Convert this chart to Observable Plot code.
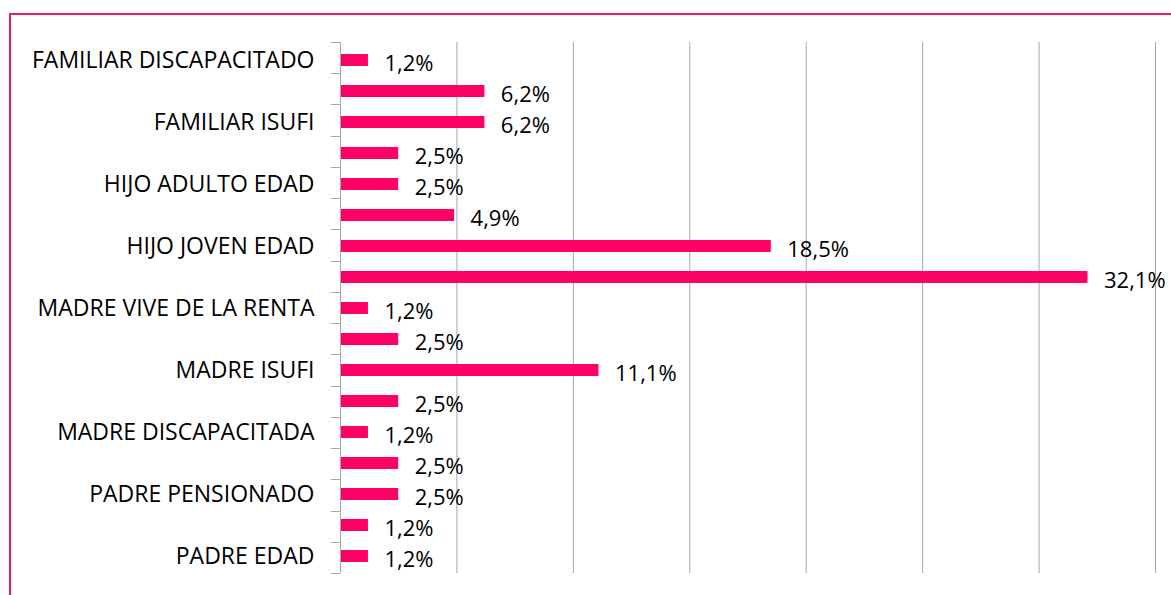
<!DOCTYPE html>
<html>
<head>
<meta charset="utf-8">
<script src="https://cdn.jsdelivr.net/npm/d3@7"></script>
<script src="https://cdn.jsdelivr.net/npm/@observablehq/plot@0.6"></script>
<style>
  html, body { margin: 0; padding: 0; background: #fff; }
  #wrap { position: relative; width: 1171px; height: 595px; overflow: hidden; }
  #frame { position: absolute; left: 9px; top: 13px; width: 1300px; height: 700px;
           border-left: 2px solid #E8196E; border-top: 2px solid #E8196E; pointer-events: none; }
  #chart { position: absolute; left: 0; top: 0; }
</style>
</head>
<body>
<div id="wrap"><div id="frame"></div><div id="chart"></div></div>
<script>
// Categories top to bottom (only every other label is shown in the original)
const categories = [
  "FAMILIAR DISCAPACITADO", "FAMILIAR EDAD", "FAMILIAR ISUFI", "HIJO ADULTO DISCAPACITADO",
  "HIJO ADULTO EDAD", "HIJO JOVEN DISCAPACITADO", "HIJO JOVEN EDAD", "HIJO JOVEN ESTUDIANTE",
  "MADRE VIVE DE LA RENTA", "MADRE PENSIONADA", "MADRE ISUFI", "MADRE EDAD",
  "MADRE DISCAPACITADA", "PADRE VIVE DE LA RENTA", "PADRE PENSIONADO", "PADRE ISUFI", "PADRE EDAD"
];
const values = [1.2, 6.2, 6.2, 2.5, 2.5, 4.9, 18.5, 32.1, 1.2, 2.5, 11.1, 2.5, 1.2, 2.5, 2.5, 1.2, 1.2];
const shownLabels = categories.filter((d, i) => i % 2 === 0);
const xTicks = [0, 5, 10, 15, 20, 25, 30, 35];

const data = categories.map((c, i) => ({category: c, value: values[i]}));
const fmt = v => v.toFixed(1).replace(".", ",") + "%";

const plot = Plot.plot({
  width: 1171,
  height: 595,
  marginLeft: 340,
  marginRight: 16,
  marginTop: 42,
  marginBottom: 22,
  style: {fontFamily: "'Open Sans', sans-serif", background: "transparent", overflow: "visible"},
  x: {domain: [0, 35], axis: null},
  y: {domain: categories, paddingInner: 0.62, paddingOuter: 0.31, axis: null},
  marks: [
    Plot.ruleX(xTicks.slice(1), {stroke: "#A6A6A6", strokeWidth: 1}),
    Plot.barX(data, {x: "value", y: "category", fill: "#FF0066"}),
    Plot.ruleX([0], {stroke: "#A6A6A6", strokeWidth: 1}),
    Plot.axisY({ticks: shownLabels, tickSize: 0, tickPadding: 26, fontSize: 23, fill: "#000", label: null}),
    Plot.text(data, {x: "value", y: "category", text: d => fmt(d.value), textAnchor: "start",
                     dx: 16, dy: 3, fontSize: 22, fill: "#000"})
  ]
});

// category boundary tick marks on the left of the axis, from the y scale
const ys = plot.scale("y");
const xs = plot.scale("x");
const x0 = xs.apply(0);
const n = categories.length;
const start = ys.range[0];
const step = (ys.range[1] - ys.range[0]) / n;
const g = d3.select(plot).append("g").attr("stroke", "#A6A6A6").attr("stroke-width", 1);
for (let i = 0; i <= n; i++) {
  const y = Math.round(start + i * step) + 0.5;
  g.append("line").attr("x1", x0 - 9).attr("x2", x0).attr("y1", y).attr("y2", y);
}

document.getElementById("chart").appendChild(plot);
</script>
</body>
</html>
